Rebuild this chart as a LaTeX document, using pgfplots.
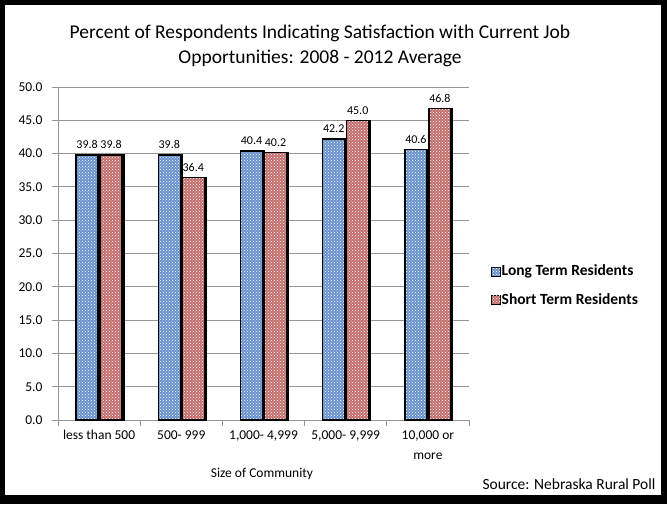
\documentclass[border=0pt]{standalone}
\usepackage{pgfplots}
\pgfplotsset{compat=1.18}
\usepackage{fontspec}
\setmainfont{Carlito}
\usetikzlibrary{patterns}
\definecolor{longblue}{RGB}{105,145,205}
\definecolor{shortred}{RGB}{195,110,108}
\definecolor{gridgray}{RGB}{150,150,150}

\begin{document}
\begin{tikzpicture}[x=1pt,y=1pt]
% frame
\fill[black] (0,0) rectangle (667,504);
\fill[white] (5,9) rectangle (661,499);
% title
\node[font=\fontsize{19.5}{22}\selectfont] at (320,471) {Percent of Respondents Indicating Satisfaction with Current Job};
\node[font=\fontsize{19.5}{22}\selectfont] at (320,446) {Opportunities: 2008 - 2012 Average};

\begin{axis}[
    at={(58pt,84pt)}, anchor=south west,
    scale only axis, width=411pt, height=333pt,
    clip=false,
    xmin=-0.5, xmax=4.5, ymin=0, ymax=50,
    ytick={0,5,...,50},
    /pgf/number format/assume math mode=true,
    yticklabel style={/pgf/number format/fixed, /pgf/number format/fixed zerofill,
        /pgf/number format/precision=1, font=\fontsize{13.5}{15}\selectfont, xshift=-6pt},
    xtick={0,...,4},
    xticklabels={less than 500, 500- 999, {1,000- 4,999}, {5,000- 9,999}, {10,000 or\\more}},
    xticklabel style={align=center, font=\fontsize{13.5}{20}\selectfont, yshift=-1pt},
    major x tick style={draw=none},
    minor xtick={-0.5,0.5,...,4.5},
    minor tick length=6pt,
    major tick length=6pt,
    tick align=outside,
    tick style={gridgray, line width=1pt},
    axis lines*=left,
    axis line style={gridgray, line width=1pt},
    ymajorgrids,
    grid style={gridgray, line width=1pt},
    ybar=2pt, bar width=22pt,
    nodes near coords,
    nodes near coords style={font=\fontsize{12}{14}\selectfont, black, yshift=2pt,
        /pgf/number format/fixed, /pgf/number format/fixed zerofill, /pgf/number format/precision=1},
    legend style={at={(1.045,0.41)}, anchor=west, draw=none, fill=none,
        font=\fontsize{15.5}{18}\selectfont\bfseries, row sep=6pt},
    legend cell align=left,
]
\addplot[draw=black, line width=1.3pt, fill=longblue,
    preaction={fill=black, transform canvas={xshift=1.8pt}},
    postaction={pattern=crosshatch dots, pattern color=white}]
    coordinates {(0,39.8) (1,39.8) (2,40.4) (3,42.2) (4,40.6)};
\addplot[draw=black, line width=1.3pt, fill=shortred,
    preaction={fill=black, transform canvas={xshift=1.8pt}},
    postaction={pattern=crosshatch dots, pattern color=white}]
    coordinates {(0,39.8) (1,36.4) (2,40.2) (3,45.0) (4,46.8)};
\legend{}
\end{axis}

% legend drawn as key boxes next to text
\begin{scope}[font=\fontsize{15.5}{18}\selectfont\bfseries]
\filldraw[draw=black, line width=0.9pt, fill=longblue, postaction={pattern=crosshatch dots, pattern color=white}] (491,228) rectangle (500,237);
\node[anchor=west, inner xsep=1.5pt] at (500,232.5) {Long Term Residents};
\filldraw[draw=black, line width=0.9pt, fill=shortred, postaction={pattern=crosshatch dots, pattern color=white}] (491,200) rectangle (500,209);
\node[anchor=west, inner xsep=1.5pt] at (500,204.5) {Short Term Residents};
\end{scope}

\node[font=\fontsize{13.5}{15}\selectfont] at (262,30) {Size of Community};
\node[font=\fontsize{15.5}{17}\selectfont, anchor=east] at (659,20) {Source: Nebraska Rural Poll};
\end{tikzpicture}
\end{document}
